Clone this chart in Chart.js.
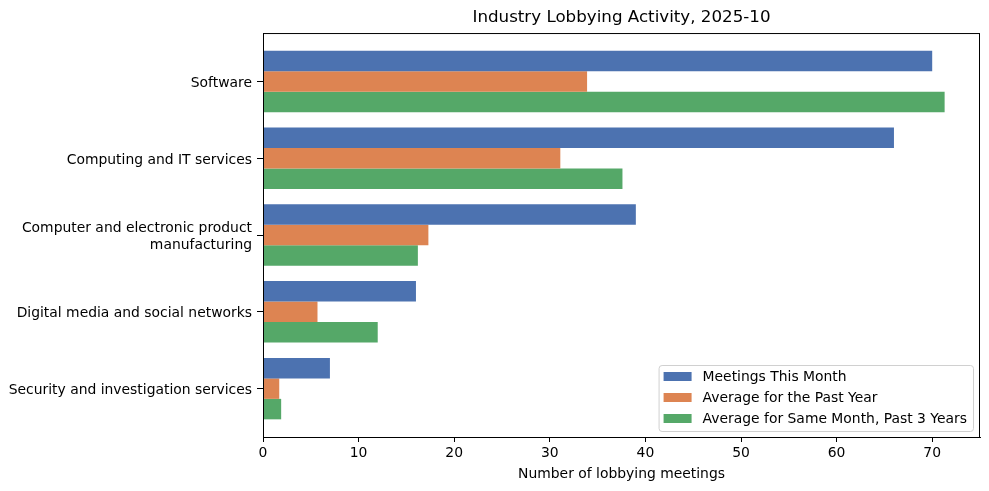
<!DOCTYPE html>
<html>
<head>
<meta charset="utf-8">
<script src="https://cdn.jsdelivr.net/npm/chart.js@4.4.1/dist/chart.umd.min.js"></script>
<style>
    html, body { margin: 0; padding: 0; background: #fff; }
    #wrap { width: 989px; height: 491px; }
</style>
</head>
<body>
<div id="wrap"><canvas id="lobby"></canvas></div>
<script>
// chart values
const categories = [
    'Software',
    'Computing and IT services',
    ['Computer and electronic product', 'manufacturing'],
    'Digital media and social networks',
    'Security and investigation services'
];
const seriesNames = [
    'Meetings This Month',
    'Average for the Past Year',
    'Average for Same Month, Past 3 Years'
];
const meetingsThisMonth = [70, 66, 39, 16, 7];
const avgPastYear = [33.9, 31.1, 17.3, 5.7, 1.7];
const avgSameMonth3y = [71.3, 37.6, 16.2, 12.0, 1.9];
const xTicks = [0, 10, 20, 30, 40, 50, 60, 70];

const colors = ['#4C72B0', '#DD8452', '#55A868'];
const FONT = 'DejaVu Sans';

Chart.defaults.font.family = FONT;
Chart.defaults.color = '#000';

function toPoints(values) {
    let pts = [];
    for (let i = 0; i < values.length; i++) {
        pts.push({ x: values[i], y: i });
    }
    return pts;
}

let allSeries = [meetingsThisMonth, avgPastYear, avgSameMonth3y];
let dataSets = [];
for (let i = 0; i < allSeries.length; i++) {
    dataSets.push({
        label: seriesNames[i],
        data: toPoints(allSeries[i]),
        backgroundColor: colors[i],
        borderWidth: 0,
        categoryPercentage: 0.8,
        barPercentage: 1.0
    });
}

// frame around the plot area plus matplotlib-like legend in the lower right
const framePlugin = {
    id: 'frame',
    afterLayout(chart) {
        const a = chart.chartArea;
        if (chart.titleBlock) {
            chart.titleBlock.left = a.left;
            chart.titleBlock.right = a.right;
        }
    },
    afterDraw(chart) {
        const ctx = chart.ctx;
        const a = chart.chartArea;
        ctx.save();
        ctx.strokeStyle = '#000';
        ctx.lineWidth = 1;
        ctx.strokeRect(a.left + 0.5, a.top + 0.5, a.right - a.left - 1, a.bottom - a.top);

        // legend
        const fs = 13.9;
        ctx.font = fs + 'px "' + FONT + '"';
        let textW = 0;
        for (const n of seriesNames) textW = Math.max(textW, ctx.measureText(n).width);
        const boxW = 5 + 28 + 11 + textW + 6;
        const rowH = 21;
        const boxH = 66;
        const bx = a.right - 7 - boxW;
        const by = a.bottom - 6 - boxH;
        ctx.beginPath();
        ctx.roundRect(bx + 0.5, by + 0.5, boxW, boxH, 3);
        ctx.fillStyle = 'rgba(255,255,255,0.8)';
        ctx.fill();
        ctx.strokeStyle = '#d0d0d0';
        ctx.stroke();
        ctx.textBaseline = 'middle';
        ctx.textAlign = 'left';
        for (let i = 0; i < seriesNames.length; i++) {
            const cy = by + 11 + i * rowH;
            ctx.fillStyle = colors[i];
            ctx.fillRect(bx + 5, cy - 4, 28, 9);
            ctx.fillStyle = '#000';
            ctx.fillText(seriesNames[i], bx + 44, cy + 1);
        }
        ctx.restore();
    }
};

let context = document.getElementById('lobby').getContext('2d');
window.lobbyChart = new Chart(context, {
    type: 'bar',
    data: { datasets: dataSets },
    plugins: [framePlugin],
    options: {
        indexAxis: 'y',
        responsive: true,
        maintainAspectRatio: false,
        animation: false,
        layout: { padding: { left: 0, right: 9, top: 0, bottom: 0 } },
        plugins: {
            legend: { display: false },
            tooltip: { enabled: false },
            title: {
                display: true,
                text: 'Industry Lobbying Activity, 2025-10',
                color: '#000',
                font: { size: 16.7, weight: 'normal', family: FONT },
                padding: { top: 8, bottom: 5 }
            }
        },
        scales: {
            x: {
                type: 'linear',
                min: 0,
                max: 75,
                afterBuildTicks(scale) {
                    scale.ticks = xTicks.map(v => ({ value: v }));
                },
                afterFit(scale) { scale.height = 54; },
                grid: {
                    drawOnChartArea: false,
                    drawTicks: true,
                    tickLength: 5,
                    color: '#000'
                },
                border: { display: true, color: '#000', width: 1 },
                ticks: {
                    padding: 3,
                    font: { size: 13.9 },
                    color: '#000'
                },
                title: {
                    display: true,
                    text: 'Number of lobbying meetings',
                    font: { size: 13.9 },
                    color: '#000',
                    padding: { top: 2, bottom: 8 }
                }
            },
            y: {
                type: 'linear',
                reverse: true,
                offset: false,
                min: -0.63,
                max: 4.63,
                afterBuildTicks(scale) {
                    scale.ticks = categories.map((c, i) => ({ value: i }));
                },
                afterFit(scale) { scale.width = 263; },
                grid: {
                    offset: false,
                    drawOnChartArea: false,
                    drawTicks: true,
                    tickLength: 6,
                    color: '#000'
                },
                border: { display: true, color: '#000', width: 1 },
                ticks: {
                    padding: 5,
                    labelOffset: 2,
                    font: { size: 13.9, lineHeight: 1.2 },
                    color: '#000',
                    callback: function (value) { return categories[value]; }
                }
            }
        }
    }
});
</script>
</body>
</html>
